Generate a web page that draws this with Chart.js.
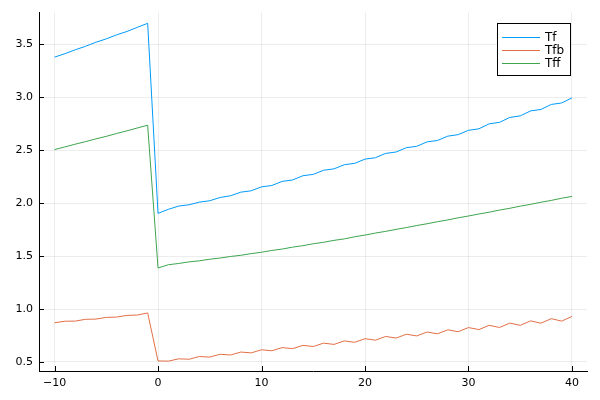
<!DOCTYPE html>
<html>
<head>
<meta charset="utf-8">
<script src="https://cdn.jsdelivr.net/npm/chart.js@4"></script>
<style>
  body { margin: 0; background: #fff; }
  #chart { display: block; }
</style>
</head>
<body>
<canvas id="chart" width="600" height="400"></canvas>
<script>
// x values (time steps)
const xs = [-10, -9, -8, -7, -6, -5, -4, -3, -2, -1,
  0, 1, 2, 3, 4, 5, 6, 7, 8, 9, 10,
  11, 12, 13, 14, 15, 16, 17, 18, 19, 20,
  21, 22, 23, 24, 25, 26, 27, 28, 29, 30,
  31, 32, 33, 34, 35, 36, 37, 38, 39, 40];

const tf = [3.378, 3.410, 3.447, 3.480, 3.518, 3.550, 3.588, 3.620, 3.659, 3.697,
  1.903, 1.941, 1.972, 1.984, 2.009, 2.022, 2.053, 2.069, 2.103, 2.116, 2.153,
  2.166, 2.205, 2.218, 2.258, 2.271, 2.310, 2.323, 2.362, 2.375, 2.415,
  2.428, 2.469, 2.482, 2.523, 2.536, 2.578, 2.591, 2.632, 2.646, 2.687,
  2.701, 2.748, 2.762, 2.809, 2.823, 2.870, 2.884, 2.931, 2.945, 2.993];

const tfb = [0.870, 0.885, 0.886, 0.903, 0.905, 0.921, 0.924, 0.940, 0.943, 0.963,
  0.510, 0.508, 0.530, 0.526, 0.552, 0.546, 0.573, 0.566, 0.594, 0.586, 0.615,
  0.606, 0.636, 0.626, 0.657, 0.646, 0.678, 0.666, 0.699, 0.686, 0.720,
  0.706, 0.741, 0.726, 0.762, 0.746, 0.783, 0.766, 0.804, 0.786, 0.825,
  0.806, 0.846, 0.826, 0.867, 0.846, 0.888, 0.866, 0.909, 0.886, 0.930];

const tff = [2.505, 2.530, 2.556, 2.580, 2.606, 2.630, 2.657, 2.682, 2.709, 2.735,
  1.387, 1.418, 1.430, 1.445, 1.455, 1.470, 1.481, 1.496, 1.507, 1.523, 1.536,
  1.553, 1.566, 1.584, 1.598, 1.616, 1.630, 1.648, 1.662, 1.682, 1.698,
  1.717, 1.733, 1.752, 1.769, 1.788, 1.805, 1.824, 1.841, 1.861, 1.878,
  1.897, 1.914, 1.934, 1.951, 1.971, 1.988, 2.008, 2.025, 2.046, 2.063];

const seriesNames = ["Tf", "Tfb", "Tff"];
const xTicks = [-10, 0, 10, 20, 30, 40];
const yTicks = [0.5, 1.0, 1.5, 2.0, 2.5, 3.0, 3.5];

const colors = ["#009AFA", "#E36F47", "#3EA44E"];
const fontFamily = "'DejaVu Sans', sans-serif";

function toPoints(ys) {
  return xs.map((x, i) => ({ x: x, y: ys[i] }));
}

// small inward tick marks, like the GR backend draws them
const innerTicks = {
  id: "innerTicks",
  afterDraw(chart) {
    const ctx = chart.ctx;
    const a = chart.chartArea;
    const sx = chart.scales.x;
    const sy = chart.scales.y;
    ctx.save();
    ctx.strokeStyle = "#000";
    ctx.lineWidth = 1;
    ctx.beginPath();
    sx.ticks.forEach((t) => {
      const px = Math.round(sx.getPixelForValue(t.value)) + 0.5;
      ctx.moveTo(px, a.bottom);
      ctx.lineTo(px, a.bottom - 5);
    });
    sy.ticks.forEach((t) => {
      const py = Math.round(sy.getPixelForValue(t.value)) + 0.5;
      ctx.moveTo(a.left, py);
      ctx.lineTo(a.left + 5, py);
    });
    ctx.stroke();
    ctx.restore();
  },
};

// legend box in the top right corner
const boxLegend = {
  id: "boxLegend",
  afterDraw(chart) {
    const ctx = chart.ctx;
    const left = 497, top = 23, w = 73, h = 52;
    ctx.save();
    ctx.fillStyle = "#fff";
    ctx.fillRect(left, top, w, h);
    ctx.strokeStyle = "#000";
    ctx.lineWidth = 1;
    ctx.strokeRect(left + 0.5, top + 0.5, w, h);
    ctx.font = "12px " + fontFamily;
    ctx.textBaseline = "middle";
    chart.data.datasets.forEach((ds, i) => {
      const y = Math.round(top + 14 + i * 12.8) + 0.5;
      ctx.beginPath();
      ctx.strokeStyle = colors[i];
      ctx.moveTo(502, y);
      ctx.lineTo(540, y);
      ctx.stroke();
      ctx.fillStyle = "#000";
      ctx.fillText(ds.label, 545, y);
    });
    ctx.restore();
  },
};

new Chart(document.getElementById("chart").getContext("2d"), {
  type: "line",
  data: {
    datasets: [tf, tfb, tff].map((ys, i) => ({
      label: seriesNames[i],
      data: toPoints(ys),
      borderColor: colors[i],
      backgroundColor: colors[i],
      borderWidth: 1,
      pointRadius: 0,
      tension: 0,
      fill: false,
    })),
  },
  options: {
    responsive: false,
    animation: false,
    devicePixelRatio: 1,
    layout: { padding: { top: 12, right: 13, left: 0, bottom: 0 } },
    plugins: {
      legend: { display: false },
      tooltip: { enabled: false },
    },
    scales: {
      x: {
        type: "linear",
        min: -11.5,
        max: 41.45,
        afterBuildTicks: (s) => { s.ticks = xTicks.map((v) => ({ value: v })); },
        afterFit: (s) => { s.height = 29; },
        grid: { color: "rgba(0,0,0,0.07)", drawTicks: false },
        border: { color: "#000", width: 1 },
        ticks: {
          padding: 6,
          color: "#000",
          font: { family: fontFamily, size: 11 },
          callback: (v) => String(v).replace("-", "\u2212"),
        },
      },
      y: {
        type: "linear",
        min: 0.415,
        max: 3.798,
        afterBuildTicks: (s) => { s.ticks = yTicks.map((v) => ({ value: v })); },
        afterFit: (s) => { s.width = 39; },
        grid: { color: "rgba(0,0,0,0.07)", drawTicks: false },
        border: { color: "#000", width: 1 },
        ticks: {
          padding: 6,
          color: "#000",
          font: { family: fontFamily, size: 11 },
          callback: (v) => Number(v).toFixed(1),
        },
      },
    },
  },
  plugins: [innerTicks, boxLegend],
});
</script>
</body>
</html>
